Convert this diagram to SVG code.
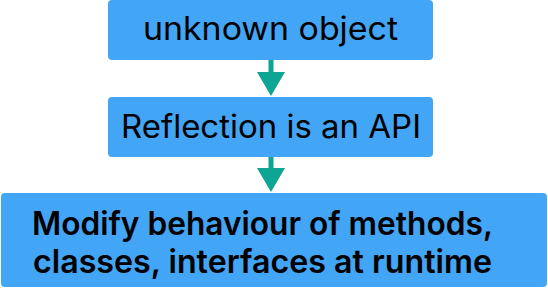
<svg xmlns="http://www.w3.org/2000/svg" width="548" height="288" viewBox="0 0 548 288">
<style>
.box{fill:#42A5F5}
.t{font-family:Inter,"Open Sans","Liberation Sans",sans-serif;font-size:32px;font-weight:400;fill:#000}
.b{font-weight:600}
.arr{fill:#0FA595}
</style>
<rect width="548" height="288" fill="#fff"/>
<g id="connectors">
<g id="c1"><rect class="arr" x="268.5" y="59" width="5" height="14"/><polygon class="arr" points="257,72 285,72 271,96"/></g>
<g id="c2"><rect class="arr" x="268.5" y="156" width="5" height="14"/><polygon class="arr" points="257,168 285,168 271,192"/></g>
</g>
<g id="n1"><rect class="box" x="108" y="0" width="325" height="60" rx="4"/><text class="t" x="143" y="40" textLength="255" lengthAdjust="spacingAndGlyphs">unknown object</text></g>
<g id="n2"><rect class="box" x="108" y="97" width="325" height="60" rx="4"/><text class="t" x="121" y="138" textLength="300" lengthAdjust="spacingAndGlyphs">Reflection is an API</text></g>
<g id="n3"><rect class="box" x="1" y="193" width="546" height="94" rx="4"/><text class="t b" x="32" y="235" textLength="461" lengthAdjust="spacingAndGlyphs">Modify behaviour of methods,</text><text class="t b" x="33" y="273" textLength="459" lengthAdjust="spacingAndGlyphs">classes, interfaces at runtime</text></g>
</svg>
